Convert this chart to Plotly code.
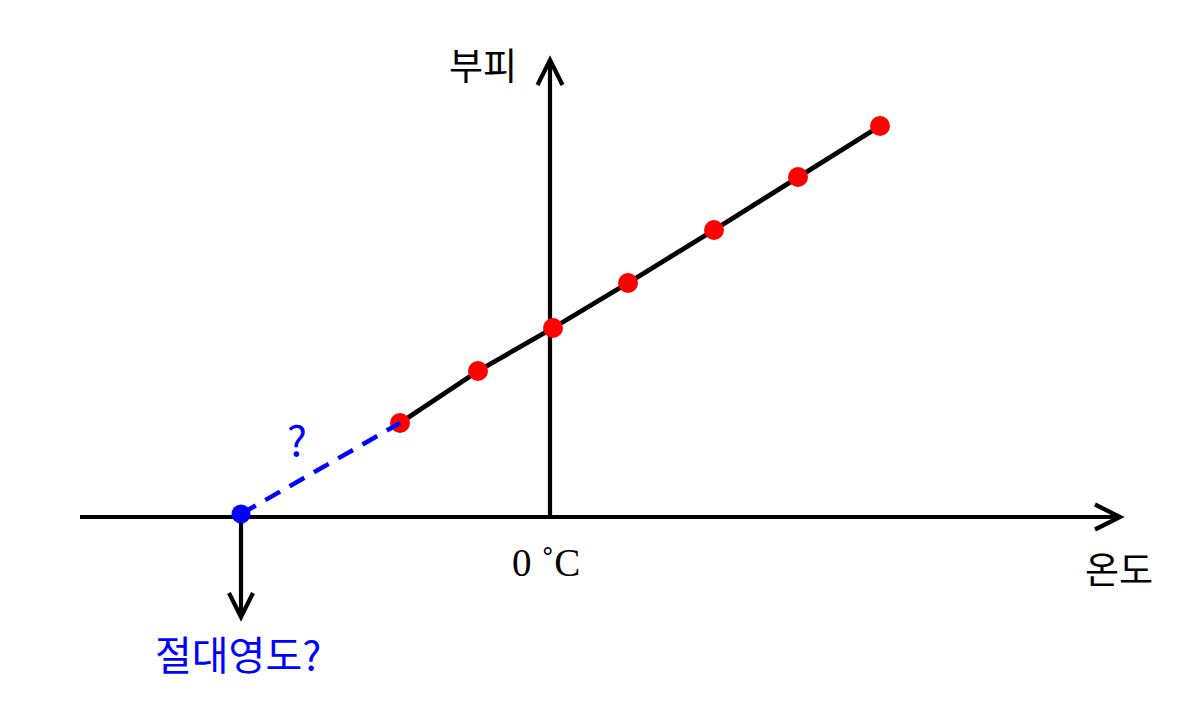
import plotly.graph_objects as go

# ---- data (temperature in °C-like units, volume in arbitrary units) ----
temperature = [-37.5, -18.0, 0.75, 19.5, 41.0, 62.0, 82.5]
volume = [9.4, 14.6, 18.9, 23.4, 28.7, 34.0, 39.1]
abs_zero_t = [-77.25]
abs_zero_v = [0.3]

label_y = "부피"
label_x = "온도"
label_zero = "0 ˚C"
label_abs = "절대영도?"
label_q = "?"

# ---- scale setup (figure pixels) ----
W, H = 1202, 703
ORIGIN_PX = (550, 517)
PX_PER_T = 4.0
PX_PER_V = 10.0

x_range = [-ORIGIN_PX[0] / PX_PER_T, (W - ORIGIN_PX[0]) / PX_PER_T]
y_range = [-(H - ORIGIN_PX[1]) / PX_PER_V, ORIGIN_PX[1] / PX_PER_V]


def dx(px):
    return px / PX_PER_T


def dy(px):
    return px / PX_PER_V


fig = go.Figure()

# fitted line with red measurement points
fig.add_trace(go.Scatter(
    x=temperature, y=volume, mode="lines+markers",
    line=dict(color="black", width=4.8),
    marker=dict(color="red", size=20),
    hoverinfo="skip", showlegend=False,
))
# extrapolation (dashed blue) to absolute zero
fig.add_trace(go.Scatter(
    x=[abs_zero_t[0], temperature[0]], y=[abs_zero_v[0], volume[0]], mode="lines",
    line=dict(color="#0000FF", width=4.5, dash="17px,11px"),
    hoverinfo="skip", showlegend=False,
))
fig.add_trace(go.Scatter(
    x=abs_zero_t, y=abs_zero_v, mode="markers",
    marker=dict(color="#0000FF", size=19),
    hoverinfo="skip", showlegend=False,
))

axis_line = dict(color="black", width=4.2)
shapes = []
# x axis
x_start, x_end = dx(80 - ORIGIN_PX[0]), dx(1120 - ORIGIN_PX[0])
shapes.append(dict(type="line", x0=x_start, x1=x_end, y0=0, y1=0, line=axis_line, layer="below"))
shapes.append(dict(type="path",
                   path=f"M {x_end - dx(25)} {dy(12.5)} L {x_end} 0 L {x_end - dx(25)} {-dy(12.5)}",
                   line=axis_line, layer="below"))
# y axis
y_end = dy(ORIGIN_PX[1] - 60)
shapes.append(dict(type="line", x0=0, x1=0, y0=0, y1=y_end, line=axis_line, layer="below"))
shapes.append(dict(type="path",
                   path=f"M {-dx(12.5)} {y_end - dy(25)} L 0 {y_end} L {dx(12.5)} {y_end - dy(25)}",
                   line=axis_line, layer="below"))
# down arrow from absolute zero
t0 = abs_zero_t[0]
d_end = -dy(617 - ORIGIN_PX[1])
shapes.append(dict(type="line", x0=t0, x1=t0, y0=0, y1=d_end, line=axis_line, layer="below"))
shapes.append(dict(type="path",
                   path=f"M {t0 - dx(12)} {d_end + dy(24)} L {t0} {d_end} L {t0 + dx(12)} {d_end + dy(24)}",
                   line=axis_line, layer="below"))


def px_to_data(px, py):
    return (px - ORIGIN_PX[0]) / PX_PER_T, (ORIGIN_PX[1] - py) / PX_PER_V


annotations = []
for text, (px, py), size, color, family in [
    (label_y, (483, 64), 37, "black", "Noto Sans CJK KR"),
    (label_x, (1119, 568), 37, "black", "Noto Sans CJK KR"),
    (label_zero, (546, 562), 39, "black", "Liberation Serif"),
    (label_abs, (238, 653), 40, "#0000FF", "Noto Sans CJK KR"),
    (label_q, (297, 437), 42, "#0000FF", "Noto Sans CJK KR"),
]:
    ax_, ay_ = px_to_data(px, py)
    annotations.append(dict(x=ax_, y=ay_, text=text, showarrow=False,
                            xanchor="center", yanchor="middle",
                            font=dict(size=size, color=color, family=family)))

fig.update_layout(
    width=W, height=H,
    margin=dict(l=0, r=0, t=0, b=0),
    paper_bgcolor="white", plot_bgcolor="white",
    xaxis=dict(range=x_range, visible=False, fixedrange=True),
    yaxis=dict(range=y_range, visible=False, fixedrange=True),
    shapes=shapes, annotations=annotations,
    showlegend=False,
)

fig.write_html("out.html", config={"displayModeBar": False},
               post_script="document.body.style.margin='0';")
